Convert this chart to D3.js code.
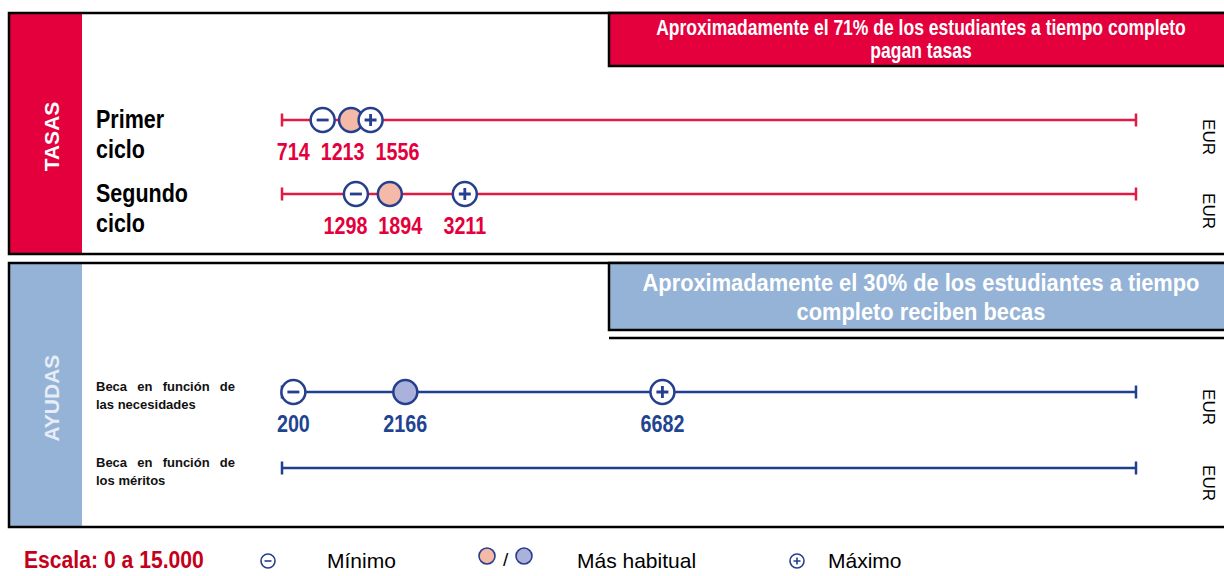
<!DOCTYPE html>
<meta charset="utf-8">
<style>
body { margin: 0; background: #fff; }
svg text { font-family: 'Liberation Sans', Arial, sans-serif; }
</style>
<svg width="1224" height="576"></svg>
<script src="https://d3js.org/d3.v7.min.js"></script>
<script>
// data
var scaleDomain = [0, 15000];
var scaleLabel = "Escala: 0 a 15.000";

var tasasRows = [["Primer", "ciclo"], ["Segundo", "ciclo"]];
var tasasMin = [714, 1298];
var tasasHabitual = [1213, 1894];
var tasasMax = [1556, 3211];
var tasasNote = ["Aproximadamente el 71% de los estudiantes a tiempo completo", "pagan tasas"];

var ayudasRows = [["Beca en función de", "las necesidades"], ["Beca en función de", "los méritos"]];
var ayudasMin = [200, null];
var ayudasHabitual = [2166, null];
var ayudasMax = [6682, null];
var ayudasNote = ["Aproximadamente el 30% de los estudiantes a tiempo", "completo reciben becas"];

var legendLabels = ["Mínimo", "Más habitual", "Máximo"];
var unit = "EUR";

var svg = d3.select("svg");
var x = d3.scaleLinear().domain(scaleDomain).range([282, 1136]);

var ink = "#263f8c";
var red = "#e3003d";
var blue = "#95b3d7";

// condensed text: no narrow face installed, so squeeze the regular one
function narrow(g, tx, ty, txt, size, f, anchor) {
	var w = g.append("g").attr("transform", "translate(" + tx + "," + ty + ") scale(" + f + ",1)");
	var t = w.append("text")
		.attr("font-size", size)
		.attr("font-weight", "bold")
		.attr("text-anchor", anchor || "start")
		.text(txt);
	return { wrap: w, text: t, width: t.node().getComputedTextLength() * f, y: ty, f: f };
}

function marker(g, kind, cx, cy, r, fill) {
	var m = g.append("g").attr("transform", "translate(" + cx + "," + cy + ")");
	m.append("circle").attr("r", r)
		.attr("fill", fill || "#fff")
		.attr("stroke", ink)
		.attr("stroke-width", r > 9 ? 2.5 : 1.6);
	var s = r * 0.5;
	if (kind == "min" || kind == "max") {
		m.append("path")
			.attr("d", kind == "min" ? "M" + (-s) + ",0H" + s : "M" + (-s) + ",0H" + s + "M0," + (-s) + "V" + s)
			.attr("stroke", ink)
			.attr("stroke-width", r > 9 ? 2.8 : 1.6);
	}
}

// push overlapping value labels apart, keeping each group centred on its marks
function spread(labels, gap) {
	var groups = labels.map(function(l) { return [l]; });
	function lay(gr) {
		var total = d3.sum(gr, function(l) { return l.w; }) + gap * (gr.length - 1);
		var left = d3.mean(gr, function(l) { return l.x; }) - total / 2;
		return { left: left, right: left + total };
	}
	var merged = true;
	while (merged) {
		merged = false;
		for (var i = 0; i < groups.length - 1; i++) {
			if (lay(groups[i]).right + gap > lay(groups[i + 1]).left) {
				groups[i] = groups[i].concat(groups[i + 1]);
				groups.splice(i + 1, 1);
				merged = true;
				break;
			}
		}
	}
	groups.forEach(function(gr) {
		var p = lay(gr).left;
		gr.forEach(function(l) { l.pos = p + l.w / 2; p += l.w + gap; });
	});
}

function drawPanel(cfg) {
	var g = svg.append("g");
	var y = d3.scalePoint().domain(d3.range(cfg.rows.length)).range(cfg.rowRange);

	// side band
	g.append("rect").attr("x", 9).attr("y", cfg.top).attr("width", 73).attr("height", cfg.bottom - cfg.top)
		.attr("fill", cfg.colour);
	g.append("text")
		.attr("transform", "translate(59," + ((cfg.top + cfg.bottom) / 2 + 3) + ") rotate(-90)")
		.attr("text-anchor", "middle")
		.attr("font-size", 21).attr("font-weight", "bold")
		.attr("fill", cfg.sideInk)
		.text(cfg.side);

	// frame
	g.append("rect").attr("x", 9).attr("y", cfg.top).attr("width", 1230).attr("height", cfg.bottom - cfg.top)
		.attr("fill", "none").attr("stroke", "#000").attr("stroke-width", 2.5);

	// note box
	g.append("rect").attr("x", 609).attr("y", cfg.top).attr("width", 630).attr("height", cfg.boxH)
		.attr("fill", cfg.colour).attr("stroke", "#000").attr("stroke-width", 2.5);
	if (cfg.underline) {
		g.append("line").attr("x1", 609).attr("x2", 1224)
			.attr("y1", cfg.top + cfg.boxH + 8).attr("y2", cfg.top + cfg.boxH + 8)
			.attr("stroke", "#000").attr("stroke-width", 2.5);
	}
	cfg.note.forEach(function(line, i) {
		narrow(g, 921, cfg.top + cfg.noteY + i * cfg.noteLead, line, cfg.noteSize, cfg.noteF, "middle")
			.text.attr("fill", "#fff");
	});

	cfg.rows.forEach(function(lines, i) {
		var yy = y(i);

		// row label
		lines.forEach(function(t, k) {
			var ly = yy + cfg.labelY + k * cfg.labelLead;
			if (cfg.justify) {
				var tx = g.append("text")
					.attr("x", 96).attr("y", ly)
					.attr("font-size", cfg.labelSize).attr("font-weight", "bold")
					.attr("fill", "#111")
					.text(t);
				if (k == 0) {
					var gaps = t.split(" ").length - 1;
					var extra = cfg.justify - tx.node().getComputedTextLength();
					tx.attr("word-spacing", extra / gaps);
				}
			} else {
				narrow(g, 96, ly, t, cfg.labelSize, cfg.labelF).text.attr("fill", "#000");
			}
		});

		// scale line
		g.append("line").attr("x1", x(scaleDomain[0])).attr("x2", x(scaleDomain[1]))
			.attr("y1", yy).attr("y2", yy)
			.attr("stroke", cfg.lineColour).attr("stroke-width", 2.5);
		scaleDomain.forEach(function(v) {
			g.append("line").attr("x1", x(v)).attr("x2", x(v))
				.attr("y1", yy - 6.5).attr("y2", yy + 6.5)
				.attr("stroke", cfg.lineColour).attr("stroke-width", 2.5);
		});

		// marks
		var pts = [
			{ kind: "min", v: cfg.min[i] },
			{ kind: "hab", v: cfg.hab[i] },
			{ kind: "max", v: cfg.max[i] }
		].filter(function(p) { return p.v != null; });
		pts.forEach(function(p) {
			marker(g, p.kind, x(p.v), yy, 12, p.kind == "hab" ? cfg.habFill : null);
		});

		// value labels
		var labs = pts.map(function(p) {
			var n = narrow(g, 0, yy + 40, p.v, 23.5, 0.84, "middle");
			n.text.attr("fill", cfg.numColour);
			return { x: x(p.v), w: n.width, n: n };
		});
		spread(labs, 11);
		labs.forEach(function(l) {
			l.n.wrap.attr("transform", "translate(" + l.pos + "," + l.n.y + ") scale(" + l.n.f + ",1)");
		});

		// unit
		g.append("text")
			.attr("transform", "translate(1203," + (yy + cfg.unitDy) + ") rotate(90)")
			.attr("text-anchor", "middle")
			.attr("font-size", 17)
			.attr("fill", "#000")
			.text(unit);
	});
}

drawPanel({
	top: 13, bottom: 254, rowRange: [120, 194],
	colour: red, sideInk: "#fff", side: "TASAS",
	boxH: 53, underline: false, note: tasasNote, noteY: 22, noteLead: 23, noteSize: 21.5, noteF: 0.815,
	rows: tasasRows, labelY: 8, labelLead: 30, labelSize: 25, labelF: 0.86,
	lineColour: "#e31b43", numColour: red, habFill: "#f4b9a7",
	min: tasasMin, hab: tasasHabitual, max: tasasMax, unitDy: 17
});

drawPanel({
	top: 263, bottom: 527, rowRange: [392, 468],
	colour: blue, sideInk: "#e6edf6", side: "AYUDAS",
	boxH: 67, underline: true, note: ayudasNote, noteY: 28, noteLead: 29, noteSize: 24, noteF: 0.91,
	rows: ayudasRows, labelY: -1, labelLead: 18, labelSize: 13, justify: 139,
	lineColour: "#1f3f90", numColour: "#1f4591", habFill: "#aab1db",
	min: ayudasMin, hab: ayudasHabitual, max: ayudasMax, unitDy: 15
});

// legend
var lg = svg.append("g");
narrow(lg, 24, 568, scaleLabel, 23, 0.92).text.attr("fill", "#c4001a");
marker(lg, "min", 268, 561, 7);
marker(lg, "hab", 487, 556, 8, "#f4b9a7");
lg.append("text").attr("x", 503).attr("y", 566).attr("font-size", 19).text("/");
marker(lg, "hab", 524, 556, 8, "#aab1db");
marker(lg, "max", 797, 561, 7);
var legendX = [327, 577, 828];
lg.selectAll("text.lab").data(legendLabels).enter().append("text")
	.attr("class", "lab")
	.attr("x", function(d, i) { return legendX[i]; })
	.attr("y", 568)
	.attr("font-size", 21)
	.attr("fill", "#000")
	.text(function(d) { return d; });
</script>
